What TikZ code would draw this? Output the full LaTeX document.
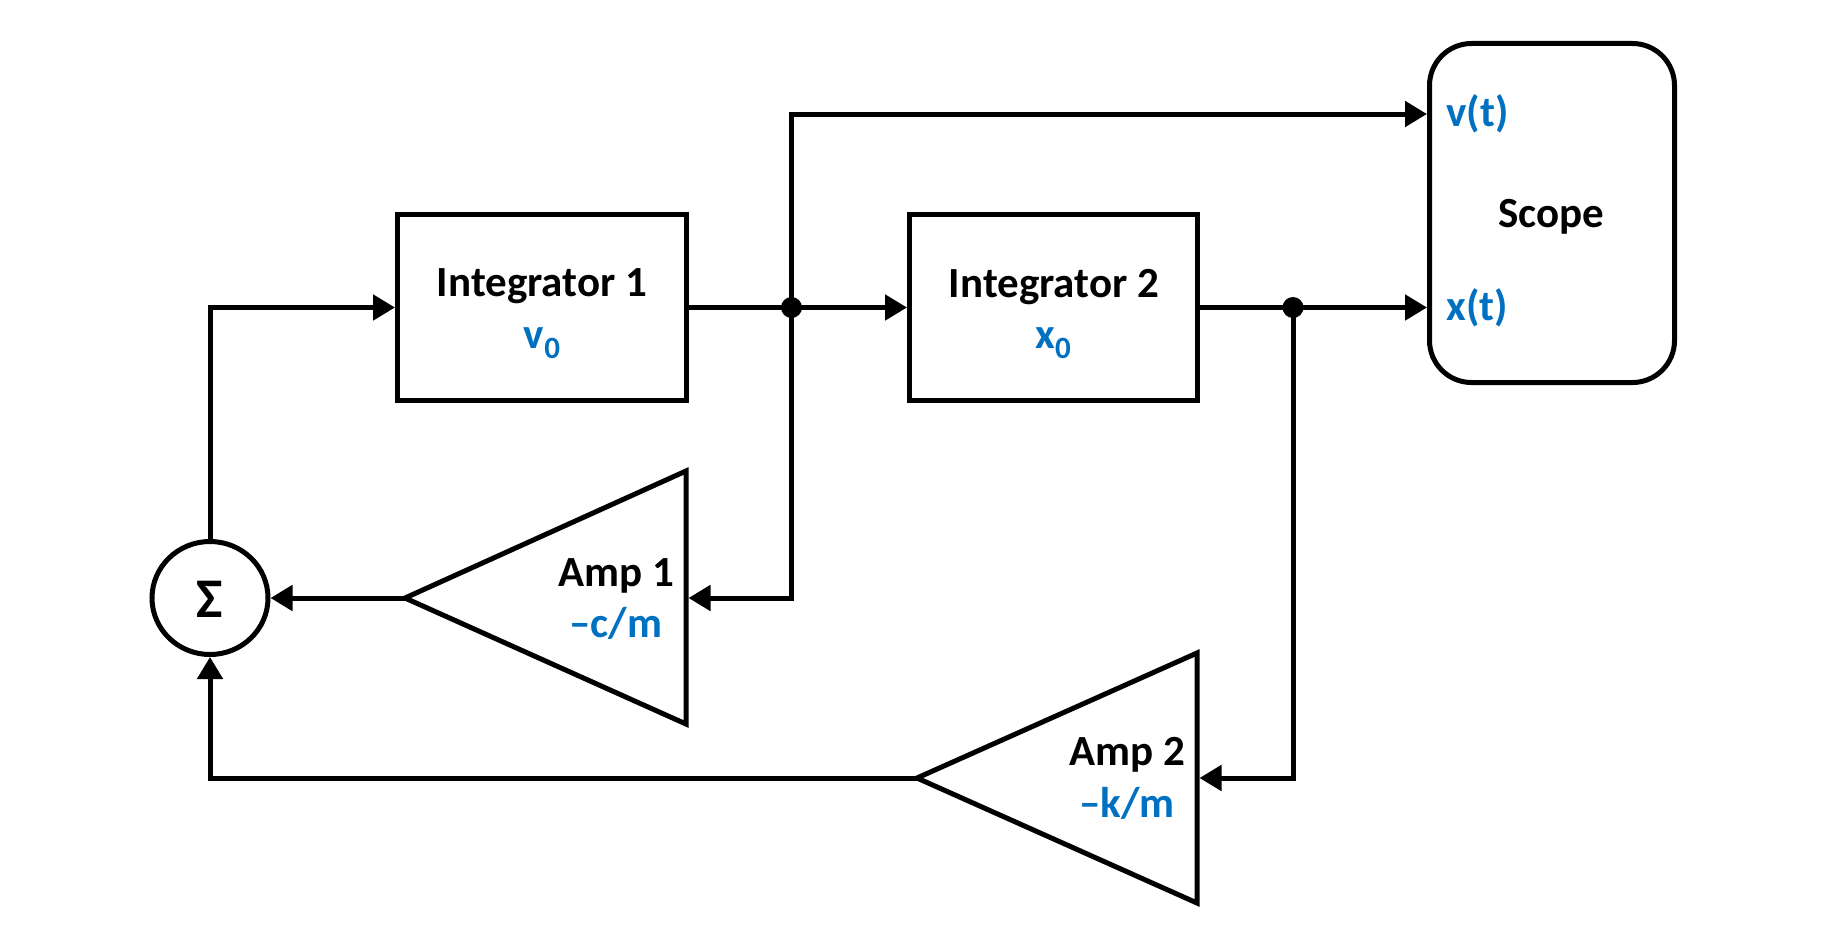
\documentclass[tikz,border=0pt]{standalone}
\usepackage{fontspec}
\setmainfont{Carlito}
\usetikzlibrary{arrows.meta,shapes.geometric}
\definecolor{lblue}{HTML}{0070C0}
\begin{document}
\begin{tikzpicture}[x=1pt,y=-1pt,
  line width=5pt,
  blk/.style={draw, rectangle, inner sep=0pt},
  arr/.style={-{Triangle[length=22pt,width=25pt]}},
  lbl/.style={font=\fontsize{43}{50}\selectfont\bfseries, inner sep=0pt},
  bl/.style={lbl, text=lblue},
  jdot/.style={circle, fill=black, draw=none, minimum size=21pt, inner sep=0pt},
  amp/.style={draw, line join=miter}
]
\useasboundingbox (0,0) rectangle (1846,950);
% blocks
\node[blk, minimum width=289pt, minimum height=186pt] (int1) at (542,307.5) {};
\node[blk, minimum width=288pt, minimum height=186pt] (int2) at (1053.5,307.5) {};
\node[blk, rounded corners=42pt, minimum width=245pt, minimum height=339pt] (scope) at (1552,213) {};
\node[draw, ellipse, minimum width=116pt, minimum height=113pt, inner sep=0pt] (sigma) at (210,598) {};
% amplifiers
\coordinate (a1tip) at (405,598);
\coordinate (a1top) at (686,471);
\coordinate (a1bot) at (686,724);
\coordinate (a1in) at (688.5,598);
\draw[amp] (a1tip) -- (a1top) -- (a1bot) -- cycle;
\coordinate (a2tip) at (917,778);
\coordinate (a2top) at (1197,653);
\coordinate (a2bot) at (1197,903);
\coordinate (a2in) at (1199.5,778);
\draw[amp] (a2tip) -- (a2top) -- (a2bot) -- cycle;
% junctions
\node[jdot] (dot1) at (791.5,307.5) {};
\node[jdot] (dot2) at (1293,307.5) {};
\coordinate (vin) at (1427,114);
\coordinate (xin) at (1427,307.5);
% connectors
\draw[arr] (sigma.north) |- (int1.west);
\draw[arr] (int1.east) -- (int2.west);
\draw[arr] (dot1.center) |- (vin);
\draw[arr] (int2.east) -- (xin);
\draw[arr] (dot1.center) |- (a1in);
\draw[arr] (a1tip) -- (sigma.east);
\draw[arr] (dot2.center) |- (a2in);
\draw[arr] (a2tip) -| (sigma.south);
% labels
\node[lbl, anchor=base] (t1) at (542,296) {Integrator 1};
\node[bl, anchor=base] (t1v) at (542,348) {v\raisebox{-10pt}{\fontsize{31}{32}\selectfont 0}};
\node[lbl, anchor=base] (t2) at (1054,297) {Integrator 2};
\node[bl, anchor=base] (t2x) at (1053,348) {x\raisebox{-10pt}{\fontsize{31}{32}\selectfont 0}};
\node[lbl, anchor=base] (ts) at (1551,227) {Scope};
\node[bl, anchor=west] (tv) at (1444,114) {v(t)};
\node[bl, anchor=west] (tx) at (1444,307.5) {x(t)};
\node[lbl, anchor=base] (ta1) at (616,586) {Amp 1};
\node[bl, anchor=base] (ta1g) at (616,637) {–c/m};
\node[lbl, anchor=base] (ta2) at (1127.5,765) {Amp 2};
\node[bl, anchor=base] (ta2g) at (1127,817) {–k/m};
\node[font=\fontsize{56}{60}\selectfont\bfseries, inner sep=0pt] (sg) at (210,599.5) {Σ};
\end{tikzpicture}
\end{document}
